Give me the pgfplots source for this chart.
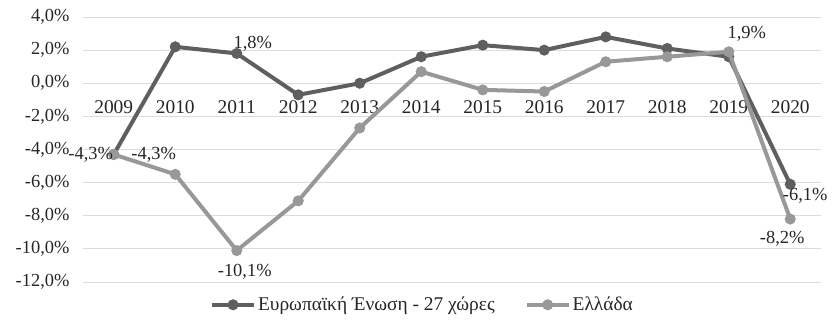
\documentclass[border=0pt]{standalone}
\usepackage{fontspec}
\setmainfont{Liberation Serif}
\usepackage{pgfplots}
\pgfplotsset{compat=1.18}
\definecolor{eucol}{RGB}{95,95,95}
\definecolor{grcol}{RGB}{152,152,152}
\definecolor{gridc}{RGB}{220,220,220}
\definecolor{txt}{RGB}{38,38,38}
\begin{document}
\begin{tikzpicture}[font=\fontsize{18.5}{22}\selectfont, text=txt]
\begin{axis}[
  scale only axis, width=738bp, height=265bp,
  at={(0,0)}, anchor=south west,
  xmin=-0.5, xmax=11.5, ymin=-12, ymax=4,
  clip mode=individual,
  axis x line=middle, axis y line=left,
  axis line style={-}, x axis line style={draw=gridc, line width=0.8bp},
  y axis line style={draw=none},
  hide obscured x ticks=false, hide obscured y ticks=false,
  xtick={0,1,2,3,4,5,6,7,8,9,10,11},
  xticklabels={2009,2010,2011,2012,2013,2014,2015,2016,2017,2018,2019,2020},
  ytick={-12,-10,-8,-6,-4,-2,0,2,4},
  yticklabels={{-12,0\%},{-10,0\%},{-8,0\%},{-6,0\%},{-4,0\%},{-2,0\%},{0,0\%},{2,0\%},{4,0\%}},
  major tick length=0,
  ymajorgrids, grid style={gridc, line width=0.8bp},
  xticklabel style={yshift=-14bp, font=\fontsize{19.5}{22}\selectfont},
  yticklabel style={xshift=-10bp},
  legend style={at={(0.46,0)}, anchor=north, yshift=-11bp, draw=none, fill=none,
    font=\fontsize{19.5}{22}\selectfont,
    legend columns=2, /tikz/every even column/.append style={column sep=28bp}},
  legend cell align=left,
  legend image code/.code={\draw[mark repeat=2,mark phase=2,#1] plot coordinates {(0bp,0bp) (21bp,0bp) (42bp,0bp)};},
]
\addplot[eucol, line width=4bp, mark=*, mark size=3.4bp, mark options={solid}] coordinates {
 (0,-4.3) (1,2.2) (2,1.8) (3,-0.7) (4,0.0) (5,1.6) (6,2.3) (7,2.0) (8,2.8) (9,2.1) (10,1.6) (11,-6.1)};
\addlegendentry{Ευρωπαϊκή Ένωση - 27 χώρες}
\addplot[grcol, line width=4bp, mark=*, mark size=3.4bp, mark options={solid}] coordinates {
 (0,-4.3) (1,-5.5) (2,-10.1) (3,-7.1) (4,-2.7) (5,0.7) (6,-0.4) (7,-0.5) (8,1.3) (9,1.6) (10,1.9) (11,-8.2)};
\addlegendentry{Ελλάδα}
\node at ([xshift=-23bp]axis cs:0,-4.3) {-4,3\%};
\node at ([xshift=40bp]axis cs:0,-4.3) {-4,3\%};
\node at ([xshift=16bp,yshift=10bp]axis cs:2,1.8) {1,8\%};
\node at ([xshift=8bp,yshift=-21bp]axis cs:2,-10.1) {-10,1\%};
\node at ([xshift=18bp,yshift=18bp]axis cs:10,1.9) {1,9\%};
\node at ([xshift=15bp,yshift=-12bp]axis cs:11,-6.1) {-6,1\%};
\node at ([xshift=-8bp,yshift=-20bp]axis cs:11,-8.2) {-8,2\%};
\end{axis}
\pgfresetboundingbox
\path (-83bp,-42bp) rectangle (750bp,282bp);
\end{tikzpicture}
\end{document}
